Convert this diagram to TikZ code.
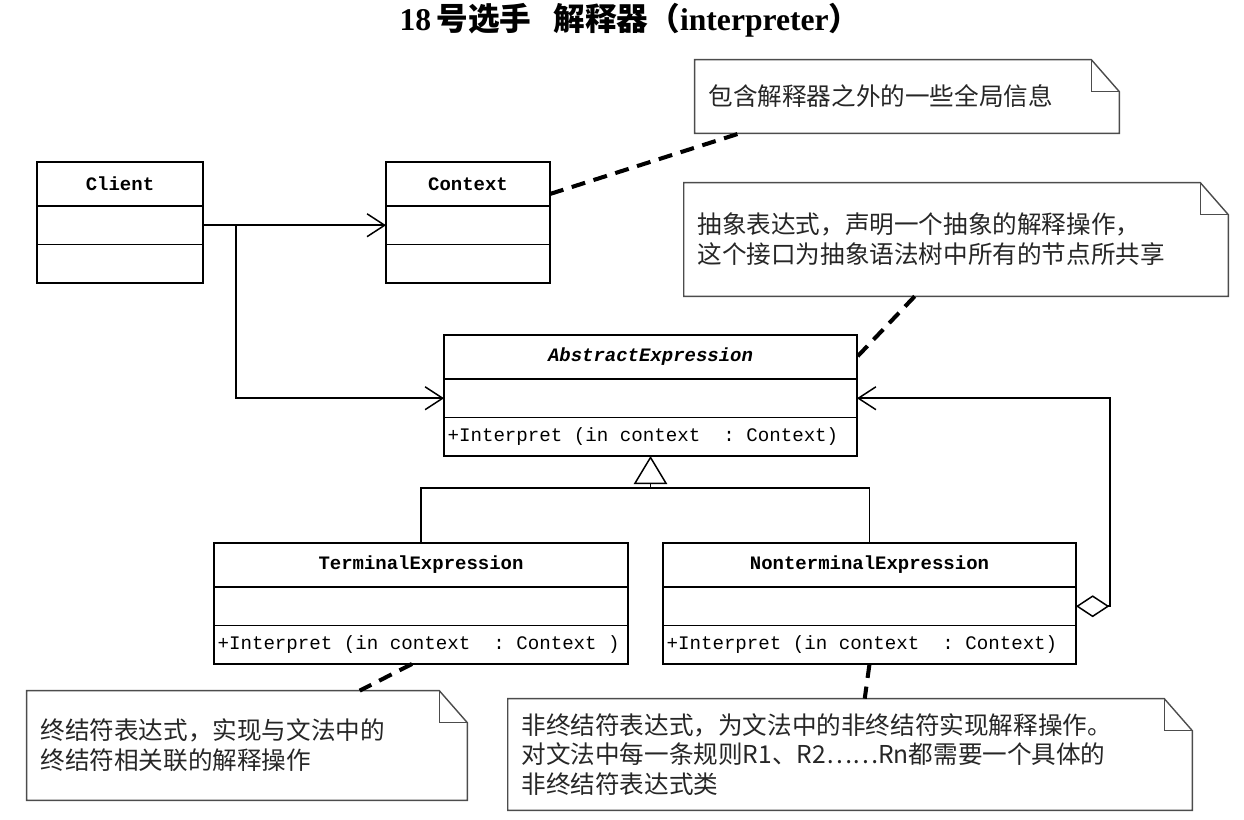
\documentclass[tikz,border=0pt]{standalone}
\usepackage{fontspec}
\setmainfont{Liberation Serif}
\setmonofont{Liberation Mono}
\newfontfamily\cjk{Noto Sans CJK SC}
\usetikzlibrary{positioning,calc,arrows.meta}

% monospaced operation text with a full-width space
\newcommand\opfont{\ttfamily\fontsize{10.9pt}{12pt}\selectfont\spaceskip=0.6em\relax}

\tikzset{
  umlname/.style={draw, line width=1.1pt, inner sep=0pt, outer sep=0pt, minimum height=0.88cm, font=\ttfamily\bfseries\fontsize{10.8pt}{12pt}\selectfont},
  umlattr/.style={draw, line width=1.1pt, inner sep=0pt, outer sep=0pt, minimum height=0.77cm},
  umlop/.style={umlattr, inner xsep=0.07cm, align=flush left, font=\opfont},
  notebox/.style={inner xsep=0.27cm, inner ysep=0pt, align=left, text=black!85, font=\cjk\fontsize{14pt}{17pt}\selectfont},
  noteline/.style={draw=black!70, line width=0.8pt, line join=miter},
  notelink/.style={line width=2.3pt, dash pattern=on 8pt off 5pt},
  conn/.style={line width=0.85pt},
  assoc/.style={conn, -{Straight Barb[length=10pt,width=13pt]}},
  inherit/.style={conn, -{Triangle[open,length=16pt,width=19pt]}},
  aggr/.style={conn, {Diamond[open,length=19pt,width=12.5pt]}-{Straight Barb[length=10pt,width=13pt]}}
}

% folded corner of a note
\newcommand\drawnote[1]{%
  \draw[noteline] (#1.north west) -- ($(#1.north east)+(-28,0)$) -- ($(#1.north east)+(0,32)$) |- (#1.south west) -- cycle;
  \draw[noteline] ($(#1.north east)+(-28,0)$) |- ($(#1.north east)+(0,32)$);
}

\begin{document}
\begin{tikzpicture}[x=0.02cm, y=-0.02cm]
\useasboundingbox (0,0) rectangle (1244,820);

\node[font=\bfseries\fontsize{18pt}{21pt}\selectfont] (title) at (630,20) {18\,{\cjk 号选手}\hspace{0.7em}{\cjk 解释器（}interpreter{\cjk ）}};

% classes
\node[umlname, minimum width=3.32cm] (client) at (120,184) {Client};
\node[umlattr, minimum width=3.32cm, below=0pt of client] (client-a) {};
\node[umlattr, minimum width=3.32cm, below=0pt of client-a] (client-m) {};

\node[umlname, minimum width=3.28cm] (context) at (468,184) {Context};
\node[umlattr, minimum width=3.28cm, below=0pt of context] (context-a) {};
\node[umlattr, minimum width=3.28cm, below=0pt of context-a] (context-m) {};

\node[umlname, minimum width=8.26cm, font=\ttfamily\bfseries\itshape\fontsize{10.8pt}{12pt}\selectfont] (abs) at (650.5,357) {AbstractExpression};
\node[umlattr, minimum width=8.26cm, below=0pt of abs] (abs-a) {};
\node[umlop, text width=8.12cm, below=0pt of abs-a] (abs-m) {+Interpret (in context\ \ : Context)};

\node[umlname, minimum width=8.28cm] (term) at (421,565) {TerminalExpression};
\node[umlattr, minimum width=8.28cm, below=0pt of term] (term-a) {};
\node[umlop, text width=8.14cm, below=0pt of term-a] (term-m) {+Interpret (in context\ \ : Context )};

\node[umlname, minimum width=8.26cm] (nonterm) at (869.5,565) {NonterminalExpression};
\node[umlattr, minimum width=8.26cm, below=0pt of nonterm] (nonterm-a) {};
\node[umlop, text width=8.12cm, below=0pt of nonterm-a] (nonterm-m) {+Interpret (in context\ \ : Context)};

% relations
\draw[assoc] (client-a.east) -- (context-a.west);
\coordinate (branch) at ($(client-a.east)+(33,0)$);
\draw[assoc] (branch) |- (abs-a.west);
\coordinate (join) at ($(abs-m.south)+(0,32)$);
\draw[conn] (term.north) |- (join) -| (nonterm.north);
\draw[inherit] (join) -- (abs-m.south);
\draw[aggr] (nonterm-a.east) -- ++(34,0) |- (abs-a.east);

% notes
\node[notebox, text width=7.94cm, minimum height=1.46cm] (note1) at (907,96.5) {包含解释器之外的一些全局信息};
\node[notebox, text width=10.34cm, minimum height=2.26cm] (note2) at (956,239.5) {抽象表达式，声明一个抽象的解释操作，\\这个接口为抽象语法树中所有的节点所共享};
\node[notebox, text width=8.26cm, minimum height=2.18cm] (note3) at (247,745.5) {终结符表达式，实现与文法中的\\终结符相关联的解释操作};
\node[notebox, text width=13.14cm, minimum height=2.22cm] (note4) at (850,754.5) {非终结符表达式，为文法中的非终结符实现解释操作。\\对文法中每一条规则R1、R2……Rn都需要一个具体的\\非终结符表达式类};
\drawnote{note1}
\drawnote{note2}
\drawnote{note3}
\drawnote{note4}

\draw[notelink] ($(context.east)+(0,10)$) -- ($(note1.south west)+(45,0)$);
\draw[notelink] ($(note2.south west)+(231,0)$) -- (abs.east);
\draw[notelink] ($(term-m.south)+(-9,0)$) -- ($(note3.north west)+(333,0)$);
\draw[notelink] (nonterm-m.south) -- ($(note4.north west)+(357,0)$);
\end{tikzpicture}
\end{document}
